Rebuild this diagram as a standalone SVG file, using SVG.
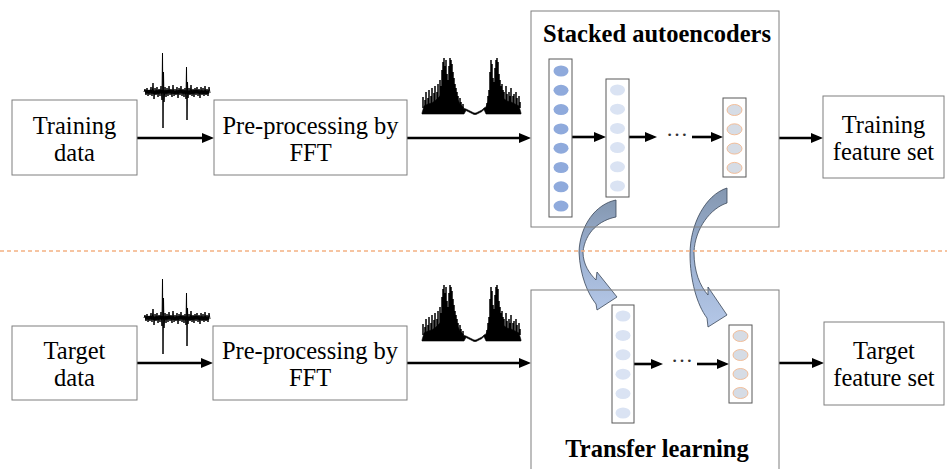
<svg xmlns="http://www.w3.org/2000/svg" width="947" height="469" viewBox="0 0 947 469">
  <style>
    .box { fill: none; stroke: #7f7f7f; stroke-width: 1; }
    .layer { fill: #ffffff; stroke: #595959; stroke-width: 1; }
    .label { font-family: "Liberation Serif", "Times New Roman", serif; font-size: 24.5px; fill: #000; text-anchor: middle; }
    .title { font-family: "Liberation Serif", "Times New Roman", serif; font-size: 24.5px; font-weight: bold; fill: #000; text-anchor: middle; }
    .dots { font-family: "Liberation Serif", "Times New Roman", serif; font-size: 22px; fill: #333; text-anchor: middle; }
    .arrow { stroke: #000; stroke-width: 2.6; fill: none; marker-end: url(#head); }
    .curve { fill: url(#bend); stroke: #3a4658; stroke-width: 0.8; }
    .n1 { fill: #8faadc; }
    .n2 { fill: #dae3f3; }
    .n3 { fill: #d6dce5; stroke: #f4b183; stroke-width: 0.8; }
    .sig { fill: none; stroke: #000; stroke-width: 1; stroke-linejoin: bevel; }
    .band { fill: none; stroke: #111; stroke-width: 3.5; stroke-linejoin: round; }
    .spec { fill: #000; stroke: #000; stroke-width: 0.6; stroke-linejoin: bevel; }
    .spike { fill: none; stroke: #000; stroke-width: 1.5; }
  </style>
  <defs>
    <marker id="head" markerUnits="userSpaceOnUse" markerWidth="12" markerHeight="10" refX="8" refY="5" orient="auto">
      <path d="M0,0 L12,5 L0,10 Z" fill="#000"/>
    </marker>
    <linearGradient id="bend" x1="0" y1="0" x2="0" y2="1">
      <stop offset="0" stop-color="#8497b0"/>
      <stop offset="0.45" stop-color="#9aafcf"/>
      <stop offset="1" stop-color="#b4c7e7"/>
    </linearGradient>
    <!-- raw vibration signal (time domain) -->
    <g id="wave">
      <polyline class="band" points="145,92 150,91.5 155,92.5 160,91.5 165,92 170,91.5 175,92.5 180,91.5 185,92 190,92.5 195,91.5 200,92 205,92.5 209,92"/>
      <polyline class="sig" points="144,92 145,89 146,95 147,88 148,96 149,90 150,95 151,87 152,96 153,83 154,99 155,88 156,95 157,87 158,97 159,89 160,96 161,86 162,100 162.5,53 163,128 163.5,72 164,102 165,87 166,97 167,88 168,96 169,86 170,95 171,89 172,97 173,85 174,96 175,89 176,95 177,87 178,98 179,88 180,95 181,86 182,96 183,89 184,97 185,88 186,99 186.5,67 187,120 187.5,82 188,98 189,88 190,95 191,85 192,96 193,89 194,97 195,88 196,95 197,87 198,96 199,89 200,98 201,87 202,95 203,88 204,96 205,86 206,95 207,89 208,96 209,87 210,93"/>
    </g>
    <!-- FFT spectrum -->
    <g id="spectrum">
      <path class="spec" d="M422,113 L424,106 L428,104 L432,103 L436,100 L440,96 L442,90 L444,84 L446,86 L448,88 L450,84 L452,82 L454,90 L456,96 L458,100 L460,104 L463,107 L464,108.5 L466,109 L468,110 L470,111 L472,112 L474,113 L476,113 L478,112 L480,111 L482,110 L484,108 L486,107 L488,102 L490,92 L492,84 L494,88 L496,82 L498,84 L500,92 L503,98 L507,101 L511,102 L515,104 L519,106 L521,113 L521,114 L486,114 L484,109.5 L482,111.5 L480,112.5 L478,113.5 L476,114.5 L474,114.5 L472,113.5 L470,112.5 L468,111.5 L466,110.5 L464,114 L422,114 Z"/>
      <path class="spike" d="M423,108V97 M425,108V100 M426,108V92 M428,108V98 M429,108V90 M431,108V96 M432,108V88 M434,108V93 M435,108V86 M437,108V92 M438,104V84 M440,100V80 M441,100V86 M442,96V70 M443,96V62 M444,96V58 M445,96V66 M446,96V60 M447,96V74 M448,96V80 M449,96V66 M450,96V58 M451,96V60 M452,96V64 M453,96V72 M454,98V78 M455,100V84 M456,100V88 M457,102V92 M458,104V96 M460,106V98 M461,106V102 M463,108V104 M487,108V103 M488,106V96 M489,104V90 M490,100V72 M491,96V60 M492,96V64 M493,96V78 M494,96V82 M495,96V68 M496,96V60 M497,96V58 M498,96V62 M499,96V74 M500,98V80 M501,100V86 M502,100V84 M503,102V90 M504,104V92 M506,104V86 M507,104V94 M509,106V92 M510,106V96 M511,106V88 M513,106V96 M514,106V94 M516,106V92 M517,108V98 M519,108V96 M520,108V102"/>
    </g>
  </defs>

  <rect width="947" height="469" fill="#ffffff"/>

  <!-- connectors -->
  <g id="connectors">
    <!-- weight transfer bends -->
    <path class="curve" d="M616,200 L616,217 C600,220 585,232 583,252 C583,265 590,274 596,280 L597,272 L617,297 L597,310 L596,304 C588,294 580,276 579,252 C580,225 596,204 616,200 Z"/>
    <path class="curve" d="M727,188 L727,203 C711,208 695,228 694,252 C694,272 700,286 708,295 L708,287 L727,315 L708,327 L707,318 C697,305 690,280 690,254 C690,225 705,195 727,188 Z"/>
    <!-- training path -->
    <line class="arrow" x1="137" y1="138" x2="210" y2="138"/>
    <line class="arrow" x1="407" y1="138" x2="527" y2="138"/>
    <line class="arrow" x1="779" y1="138" x2="819" y2="138"/>
    <line class="arrow" x1="572" y1="137" x2="602" y2="137"/>
    <line class="arrow" x1="629" y1="137" x2="653" y2="137"/>
    <line class="arrow" x1="692" y1="137" x2="719" y2="137"/>
    <!-- target path -->
    <line class="arrow" x1="137" y1="363" x2="209" y2="363"/>
    <line class="arrow" x1="407" y1="363" x2="527" y2="363"/>
    <line class="arrow" x1="779" y1="363" x2="820" y2="363"/>
    <line class="arrow" x1="634" y1="364" x2="659" y2="364"/>
    <line class="arrow" x1="697" y1="364" x2="725" y2="364"/>
  </g>

  <!-- separator between source and target domains -->
  <line x1="0" y1="251" x2="947" y2="251" stroke="#f4b183" stroke-width="1.5" stroke-dasharray="4 3"/>

  <!-- signals above the arrows -->
  <use href="#wave"/>
  <use href="#wave" transform="translate(0,226)"/>
  <use href="#spectrum"/>
  <use href="#spectrum" transform="translate(0,227)"/>

  <!-- upper row -->
  <g id="training-data">
    <rect class="box" x="12" y="100" width="125" height="75"/>
    <text class="label" x="74.5" y="134">Training</text>
    <text class="label" x="74.5" y="161">data</text>
  </g>
  <g id="fft-training">
    <rect class="box" x="214" y="100" width="193" height="75"/>
    <text class="label" x="310.5" y="134">Pre-processing by</text>
    <text class="label" x="310.5" y="161">FFT</text>
  </g>
  <g id="stacked-autoencoders">
    <rect class="box" x="531" y="11" width="248" height="216"/>
    <text class="title" x="657" y="42">Stacked autoencoders</text>
    <g id="sae-layer1">
      <rect class="layer" x="549" y="59" width="23" height="158"/>
      <ellipse class="n1" cx="561" cy="71" rx="7.5" ry="5.5"/>
      <ellipse class="n1" cx="561" cy="90.3" rx="7.5" ry="5.5"/>
      <ellipse class="n1" cx="561" cy="109.6" rx="7.5" ry="5.5"/>
      <ellipse class="n1" cx="561" cy="128.9" rx="7.5" ry="5.5"/>
      <ellipse class="n1" cx="561" cy="148.2" rx="7.5" ry="5.5"/>
      <ellipse class="n1" cx="561" cy="167.5" rx="7.5" ry="5.5"/>
      <ellipse class="n1" cx="561" cy="186.8" rx="7.5" ry="5.5"/>
      <ellipse class="n1" cx="561" cy="206.1" rx="7.5" ry="5.5"/>
    </g>
    <g id="sae-layer2">
      <rect class="layer" x="606" y="79" width="23" height="118"/>
      <ellipse class="n2" cx="617.5" cy="90" rx="7.5" ry="5.5"/>
      <ellipse class="n2" cx="617.5" cy="109.2" rx="7.5" ry="5.5"/>
      <ellipse class="n2" cx="617.5" cy="128.4" rx="7.5" ry="5.5"/>
      <ellipse class="n2" cx="617.5" cy="147.6" rx="7.5" ry="5.5"/>
      <ellipse class="n2" cx="617.5" cy="166.8" rx="7.5" ry="5.5"/>
      <ellipse class="n2" cx="617.5" cy="186" rx="7.5" ry="5.5"/>
    </g>
    <text class="dots" x="677" y="136">…</text>
    <g id="sae-layer3">
      <rect class="layer" x="723" y="98" width="23" height="79"/>
      <ellipse class="n3" cx="734.5" cy="110" rx="7.5" ry="5.5"/>
      <ellipse class="n3" cx="734.5" cy="129.3" rx="7.5" ry="5.5"/>
      <ellipse class="n3" cx="734.5" cy="148.6" rx="7.5" ry="5.5"/>
      <ellipse class="n3" cx="734.5" cy="167.9" rx="7.5" ry="5.5"/>
    </g>
  </g>
  <g id="training-features">
    <rect class="box" x="823" y="96" width="121" height="82"/>
    <text class="label" x="883.5" y="133">Training</text>
    <text class="label" x="883.5" y="160">feature set</text>
  </g>

  <!-- lower row -->
  <g id="target-data">
    <rect class="box" x="12" y="326" width="125" height="74"/>
    <text class="label" x="74.5" y="359">Target</text>
    <text class="label" x="74.5" y="386">data</text>
  </g>
  <g id="fft-target">
    <rect class="box" x="213" y="326" width="194" height="74"/>
    <text class="label" x="310" y="359">Pre-processing by</text>
    <text class="label" x="310" y="386">FFT</text>
  </g>
  <g id="transfer-learning">
    <rect class="box" x="531" y="290" width="248" height="190"/>
    <text class="title" x="657" y="457">Transfer learning</text>
    <g id="tl-layer2">
      <rect class="layer" x="612" y="305" width="22" height="118"/>
      <ellipse class="n2" cx="623" cy="316" rx="7.5" ry="5.5"/>
      <ellipse class="n2" cx="623" cy="335.4" rx="7.5" ry="5.5"/>
      <ellipse class="n2" cx="623" cy="354.8" rx="7.5" ry="5.5"/>
      <ellipse class="n2" cx="623" cy="374.2" rx="7.5" ry="5.5"/>
      <ellipse class="n2" cx="623" cy="393.6" rx="7.5" ry="5.5"/>
      <ellipse class="n2" cx="623" cy="413" rx="7.5" ry="5.5"/>
    </g>
    <text class="dots" x="682" y="362">…</text>
    <g id="tl-layer3">
      <rect class="layer" x="729" y="325" width="23" height="78"/>
      <ellipse class="n3" cx="740.5" cy="336" rx="7.5" ry="5.5"/>
      <ellipse class="n3" cx="740.5" cy="355" rx="7.5" ry="5.5"/>
      <ellipse class="n3" cx="740.5" cy="374" rx="7.5" ry="5.5"/>
      <ellipse class="n3" cx="740.5" cy="393" rx="7.5" ry="5.5"/>
    </g>
  </g>
  <g id="target-features">
    <rect class="box" x="824" y="322" width="120" height="83"/>
    <text class="label" x="884" y="359">Target</text>
    <text class="label" x="884" y="386">feature set</text>
  </g>
</svg>
